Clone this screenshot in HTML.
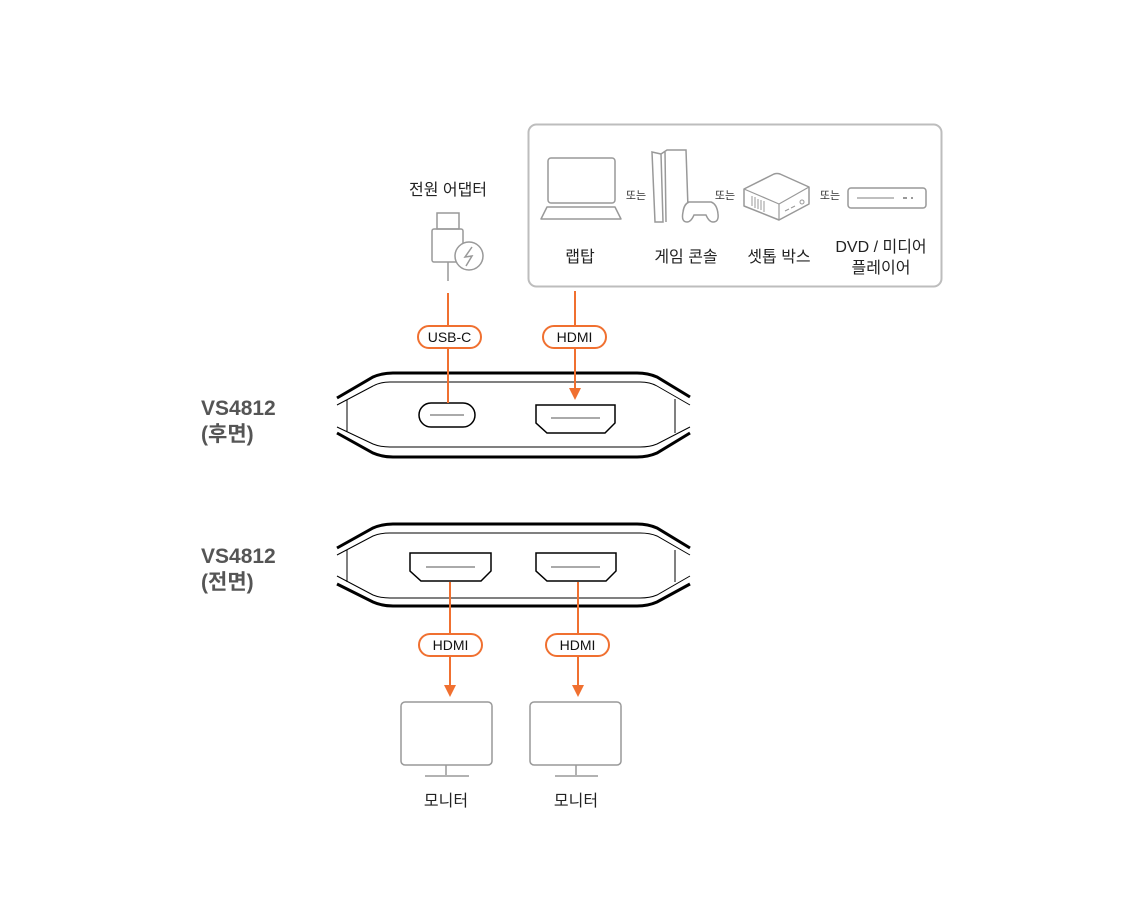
<!DOCTYPE html>
<html><head><meta charset="utf-8"><style>
html,body{margin:0;padding:0;background:#fff;}
svg{display:block;}
text{font-family:"Liberation Sans","Noto Sans CJK KR",sans-serif;}
</style></head><body>
<svg width="1140" height="913" viewBox="0 0 1140 913" xmlns="http://www.w3.org/2000/svg">
<!-- source box -->
<rect x="528.5" y="124.5" width="413" height="162" rx="8" fill="none" stroke="#bdbdbd" stroke-width="2"/>
<!-- laptop -->
<rect x="548" y="158" width="67" height="45" rx="3" fill="none" stroke="#999" stroke-width="1.5"/>
<path d="M547,207 L615,207 L621,219 L541,219 Z" fill="none" stroke="#999" stroke-width="1.5" stroke-linejoin="round"/>
<text x="636" y="199" font-size="11" fill="#333" text-anchor="middle">또는</text>
<!-- console -->
<path d="M652,152 L661,154 L663,222 L655,222 Z M661,154 L667,150 L686,150 L688,208 M666,222 L665,152" fill="none" stroke="#999" stroke-width="1.5"/>
<path d="M689,202 L711,202 Q717,204 718,214 Q719,222 713,222 Q709,222 706,215 L694,215 Q691,222 687,222 Q681,222 683,212 Q684,204 689,202 Z" fill="#fff" stroke="#999" stroke-width="1.5"/>
<text x="725" y="199" font-size="11" fill="#333" text-anchor="middle">또는</text>
<!-- mini pc -->
<path d="M744,189 L774,174 Q777,173 780,174 L809,187 L809,204 L779,220 L744,206 Z" fill="none" stroke="#999" stroke-width="1.5" stroke-linejoin="round"/>
<path d="M744,189 L779,204 L809,187 M779,204 L779,220" fill="none" stroke="#999" stroke-width="1.2"/>
<path d="M752,196 L752,206 M755,197 L755,208 M758,199 L758,209 M761,200 L761,210 M764,201 L764,212 M785,211 L789,209 M791,208 L795,206" stroke="#999" stroke-width="1"/>
<circle cx="802" cy="202" r="2" fill="none" stroke="#999"/>
<text x="830" y="199" font-size="11" fill="#333" text-anchor="middle">또는</text>
<!-- player -->
<rect x="848" y="188" width="78" height="20" rx="3" fill="none" stroke="#999" stroke-width="1.5"/>
<line x1="857" y1="198" x2="894" y2="198" stroke="#999" stroke-width="1.2"/>
<line x1="903" y1="198" x2="907" y2="198" stroke="#999" stroke-width="2"/>
<line x1="911" y1="198" x2="913" y2="198" stroke="#999" stroke-width="2"/>
<!-- labels -->
<g font-size="16" fill="#222" text-anchor="middle">
<text x="580" y="262">랩탑</text>
<text x="686" y="262">게임 콘솔</text>
<text x="779" y="262">셋톱 박스</text>
<text x="881" y="252">DVD / 미디어</text>
<text x="881" y="273">플레이어</text>
<text x="448" y="195">전원 어댑터</text>
<text x="446" y="806">모니터</text>
<text x="576" y="806">모니터</text>
</g>
<!-- adapter -->
<rect x="437" y="213" width="22" height="16" fill="none" stroke="#999" stroke-width="1.5"/>
<rect x="432" y="229" width="31" height="33" rx="2" fill="none" stroke="#999" stroke-width="1.5"/>
<circle cx="469" cy="256" r="14" fill="#fff" stroke="#999" stroke-width="1.5"/>
<path d="M472,247 L465,257 L472,256 L466,266" fill="none" stroke="#999" stroke-width="1.5"/>
<line x1="448" y1="262" x2="448" y2="281" stroke="#999" stroke-width="1.5"/>
<!-- VS labels -->
<g font-size="21" font-weight="bold" fill="#555">
<text x="201" y="415">VS4812</text>
<text x="201" y="441">(후면)</text>
<text x="201" y="563">VS4812</text>
<text x="201" y="589">(전면)</text>
</g>
<!-- rear device -->
<g fill="none" stroke="#000">
<path d="M337,398 L373,377 Q382,373 393,373 L637,373 Q648,373 657,377 L690,397" stroke-width="3"/>
<path d="M337,433 L373,453 Q382,457 393,457 L637,457 Q648,457 657,453 L690,433" stroke-width="3"/>
<path d="M337,405 L373,386 Q380,382 390,382 L640,382 Q650,382 657,386 L690,405" stroke-width="1"/>
<path d="M337,427 L373,444 Q380,447 390,447 L640,447 Q650,447 657,444 L690,427" stroke-width="1"/>
<line x1="347" y1="400" x2="347" y2="432" stroke-width="1"/>
<line x1="675" y1="399" x2="675" y2="433" stroke-width="1"/>
<rect x="419" y="403" width="56" height="24" rx="12" stroke-width="1.5"/>
<path d="M536,405 L615,405 L615,423 L605,433 L547,433 L536,423 Z" stroke-width="1.5"/>
</g>
<line x1="430" y1="415" x2="464" y2="415" stroke="#777" stroke-width="1.2"/>
<line x1="551" y1="418" x2="600" y2="418" stroke="#777" stroke-width="1.2"/>
<!-- front device -->
<g fill="none" stroke="#000">
<path d="M337,548 L373,528 Q382,524 393,524 L637,524 Q648,524 657,528 L690,548" stroke-width="3"/>
<path d="M337,584 L373,602 Q382,606 393,606 L637,606 Q648,606 657,602 L690,584" stroke-width="3"/>
<path d="M337,555 L373,536 Q380,533 390,533 L640,533 Q650,533 657,536 L690,555" stroke-width="1"/>
<path d="M337,576 L373,595 Q380,598 390,598 L640,598 Q650,598 657,595 L690,576" stroke-width="1"/>
<line x1="347" y1="550" x2="347" y2="582" stroke-width="1"/>
<line x1="675" y1="550" x2="675" y2="582" stroke-width="1"/>
<path d="M410,553 L491,553 L491,571 L481,581 L421,581 L410,571 Z" stroke-width="1.5"/>
<path d="M536,553 L616,553 L616,571 L606,581 L547,581 L536,571 Z" stroke-width="1.5"/>
</g>
<line x1="426" y1="567" x2="475" y2="567" stroke="#777" stroke-width="1.2"/>
<line x1="551" y1="567" x2="600" y2="567" stroke="#777" stroke-width="1.2"/>
<!-- orange connectors -->
<g stroke="#f07030" stroke-width="2" fill="none">
<line x1="448" y1="293" x2="448" y2="403"/>
<line x1="575" y1="291" x2="575" y2="390"/>
<line x1="450" y1="582" x2="450" y2="687"/>
<line x1="578" y1="582" x2="578" y2="687"/>
</g>
<g fill="#f07030">
<polygon points="569,388 581,388 575,400"/>
<polygon points="444,685 456,685 450,697"/>
<polygon points="572,685 584,685 578,697"/>
</g>
<g stroke="#f07030" stroke-width="2" fill="#fff">
<rect x="418" y="326" width="63" height="22" rx="11"/>
<rect x="543" y="326" width="63" height="22" rx="11"/>
<rect x="419" y="634" width="63" height="22" rx="11"/>
<rect x="546" y="634" width="63" height="22" rx="11"/>
</g>
<g font-size="14" fill="#111" text-anchor="middle">
<text x="449.5" y="342">USB-C</text>
<text x="574.5" y="342">HDMI</text>
<text x="450.5" y="650">HDMI</text>
<text x="577.5" y="650">HDMI</text>
</g>
<!-- monitors -->
<g fill="none" stroke="#999" stroke-width="1.5">
<rect x="401" y="702" width="91" height="63" rx="4"/>
<line x1="446" y1="765" x2="446" y2="775"/>
<line x1="425" y1="776" x2="469" y2="776"/>
<rect x="530" y="702" width="91" height="63" rx="4"/>
<line x1="576" y1="765" x2="576" y2="775"/>
<line x1="555" y1="776" x2="598" y2="776"/>
</g>
</svg>
</body></html>
